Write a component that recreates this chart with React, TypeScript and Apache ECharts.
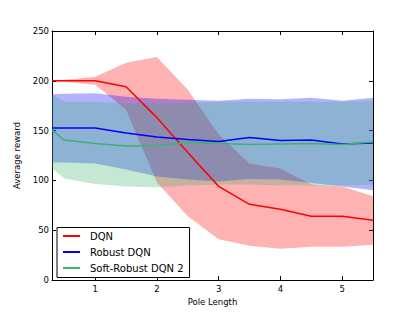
import React, { useEffect, useRef } from "react";
import * as echarts from "echarts";

const poleLengths = [0.3, 0.5, 1.0, 1.5, 2.0, 2.5, 3.0, 3.5, 4.0, 4.5, 5.0, 5.5];

const dqnMean = [200, 200, 200, 194, 163, 128, 94, 76, 71, 64, 64, 60];
const dqnUpper = [200, 201, 204, 218, 224, 191, 146, 117, 112, 96, 94, 84];
const dqnLower = [200, 199, 196, 171, 98, 64, 41, 34.5, 31.5, 33.5, 33.5, 35.5];

const robustMean = [152.5, 152.5, 152.5, 147.5, 143.5, 141, 139, 143, 140, 140.5, 136.5, 137.5];
const robustUpper = [186.5, 187, 187.5, 184, 182, 181, 180, 182, 181.5, 183, 180, 183];
const robustLower = [118, 118, 117, 111, 104, 101, 99, 101.5, 101, 97.5, 94, 90];

const softMean = [150.5, 140.5, 137, 134.5, 135, 138, 137, 136, 136.5, 137, 136, 138.5];
const softUpper = [186.5, 179, 179, 177.5, 177, 178, 179, 179, 179, 179, 179, 180];
const softLower = [112, 102, 96.5, 94, 93, 95, 96, 96, 95, 95, 95, 96];

const xTicks = [1, 2, 3, 4, 5];
const seriesNames = ["DQN", "Robust DQN", "Soft-Robust DQN 2"];
const lineColors = ["#ff0000", "#0000ff", "#3cb371"];
const fillColors = ["rgba(255,0,0,0.3)", "rgba(0,0,255,0.3)", "rgba(60,179,113,0.3)"];

const FONT = "DejaVu Sans";

function pairs(ys: number[]) {
  return poleLengths.map((x, i) => [x, ys[i]]);
}

function bandSeries(lower: number[], upper: number[], fill: string) {
  return {
    type: "custom",
    silent: true,
    z: 1,
    data: pairs(lower),
    encode: { x: 0, y: 1 },
    renderItem: (params: any, api: any) => {
      if (params.dataIndex !== 0) return null;
      const pts: number[][] = [];
      for (let i = 0; i < poleLengths.length; i++) pts.push(api.coord([poleLengths[i], upper[i]]));
      for (let i = poleLengths.length - 1; i >= 0; i--) pts.push(api.coord([poleLengths[i], lower[i]]));
      return {
        type: "polygon",
        shape: { points: pts },
        style: { fill, stroke: "none" },
      };
    },
  };
}

function meanSeries(name: string, ys: number[], color: string) {
  return {
    type: "line",
    name,
    data: pairs(ys),
    showSymbol: false,
    symbol: "none",
    color,
    itemStyle: { color },
    lineStyle: { color, width: 1.5 },
    z: 5,
  };
}

export default function App() {
  const ref = useRef<HTMLDivElement>(null);
  useEffect(() => {
    if (!ref.current) return;
    const chart = echarts.init(ref.current, null, { renderer: "svg" });
    const axisLine = { show: true, onZero: false, lineStyle: { color: "#000", width: 1 } };
    const labelStyle = { color: "#000", fontSize: 8.5, fontFamily: FONT };
    chart.setOption({
      animation: false,
      backgroundColor: "#fff",
      textStyle: { fontFamily: FONT },
      grid: { left: 52, right: 42, top: 31, bottom: 32 },
      legend: {
        data: seriesNames,
        orient: "vertical",
        left: 57,
        top: 227.5,
        icon: "rect",
        itemWidth: 17,
        itemHeight: 2,
        itemGap: 4,
        padding: [2.5, 6, 3.5, 6],
        borderColor: "#000",
        borderWidth: 1,
        backgroundColor: "#fff",
        textStyle: { color: "#000", fontSize: 10, fontFamily: FONT, padding: [0, 0, 0, 5], lineHeight: 12 },
      },
      xAxis: [
        {
          type: "value",
          position: "bottom",
          min: 0.3,
          max: 5.5,
          name: "Pole Length",
          nameLocation: "middle",
          nameGap: 14,
          nameTextStyle: { color: "#000", fontSize: 8.5, fontFamily: FONT },
          axisLine,
          axisTick: { show: true, inside: true, length: 4, customValues: xTicks, lineStyle: { color: "#000" } },
          axisLabel: { ...labelStyle, margin: 4, customValues: xTicks, formatter: (v: number) => String(v) },
          splitLine: { show: false },
        },
        {
          type: "value",
          position: "top",
          min: 0.3,
          max: 5.5,
          axisLine,
          axisTick: { show: true, inside: true, length: 4, customValues: xTicks, lineStyle: { color: "#000" } },
          axisLabel: { show: false },
          splitLine: { show: false },
        },
      ],
      yAxis: [
        {
          type: "value",
          position: "left",
          min: 0,
          max: 250,
          interval: 50,
          name: "Average reward",
          nameLocation: "middle",
          nameGap: 21,
          nameTextStyle: { color: "#000", fontSize: 8.5, fontFamily: FONT },
          axisLine,
          axisTick: { show: true, inside: true, length: 4, lineStyle: { color: "#000" } },
          axisLabel: { ...labelStyle, margin: 3 },
          splitLine: { show: false },
        },
        {
          type: "value",
          position: "right",
          min: 0,
          max: 250,
          interval: 50,
          axisLine,
          axisTick: { show: true, inside: true, length: 4, lineStyle: { color: "#000" } },
          axisLabel: { show: false },
          splitLine: { show: false },
        },
      ],
      series: [
        bandSeries(dqnLower, dqnUpper, fillColors[0]),
        bandSeries(robustLower, robustUpper, fillColors[1]),
        bandSeries(softLower, softUpper, fillColors[2]),
        meanSeries(seriesNames[0], dqnMean, lineColors[0]),
        meanSeries(seriesNames[1], robustMean, lineColors[1]),
        meanSeries(seriesNames[2], softMean, lineColors[2]),
      ],
    });
    return () => chart.dispose();
  }, []);
  return (
    <div
      ref={ref}
      style={{ position: "fixed", left: 0, top: 0, width: 415, height: 312, background: "#fff" }}
    />
  );
}
